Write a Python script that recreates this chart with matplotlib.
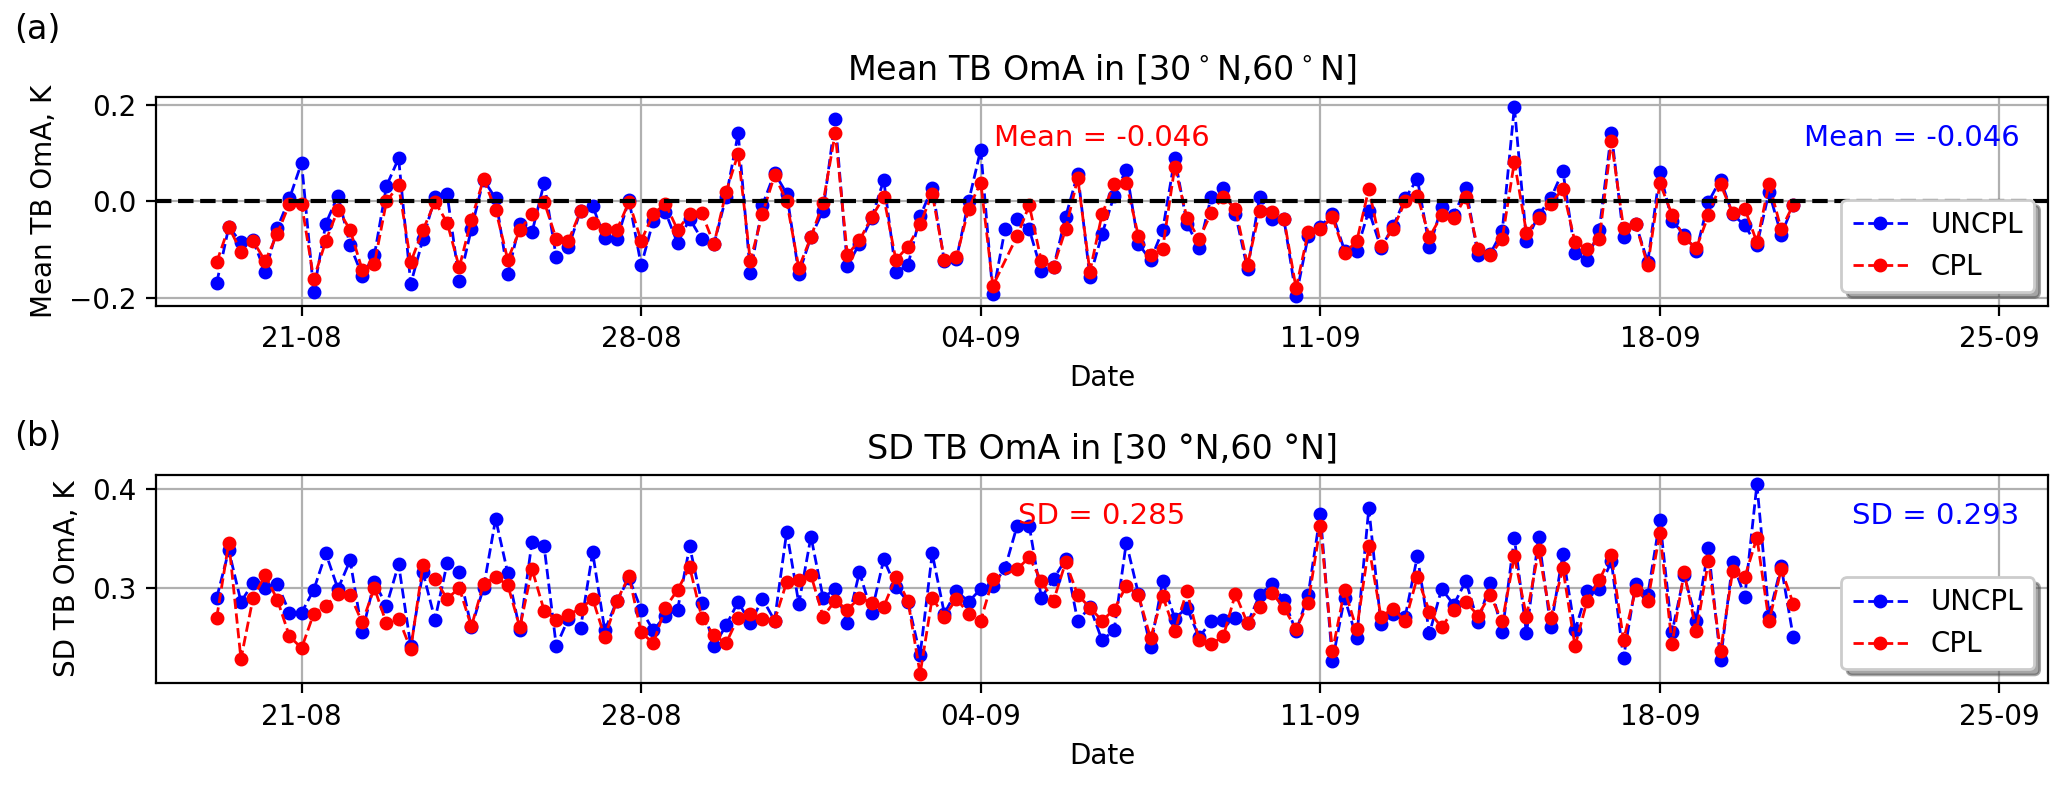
import matplotlib
matplotlib.use('Agg')
import matplotlib.pyplot as plt
import matplotlib.dates as mdates
import numpy as np
import pandas as pd

# 6-hourly analysis times
times = pd.date_range('2022-08-19 06:00', periods=131, freq='6h')

# mean TB OmA (K)
mean_uncpl = [
    -0.169, -0.053, -0.085, -0.081, -0.147, -0.055, 0.006, 0.080, -0.187, -0.046,
    0.012, -0.091, -0.154, -0.112, 0.032, 0.089, -0.171, -0.079, 0.009, 0.015,
    -0.166, -0.057, 0.045, 0.006, -0.150, -0.046, -0.064, 0.038, -0.116, -0.095,
    -0.020, -0.010, -0.076, -0.079, 0.003, -0.133, -0.040, -0.022, -0.087, -0.036,
    -0.079, -0.089, 0.009, 0.141, -0.149, -0.008, 0.059, 0.016, -0.150, -0.074,
    -0.019, 0.170, -0.134, -0.088, -0.035, 0.044, -0.147, -0.132, -0.031, 0.028,
    -0.124, -0.119, 0.000, 0.107, -0.193, -0.058, -0.037, -0.058, -0.144, -0.137,
    -0.032, 0.057, -0.157, -0.068, 0.012, 0.066, -0.088, -0.122, -0.060, 0.090,
    -0.046, -0.096, 0.009, 0.028, -0.026, -0.141, 0.010, -0.036, -0.037, -0.197,
    -0.072, -0.053, -0.026, -0.102, -0.102, -0.019, -0.097, -0.052, 0.006, 0.047,
    -0.095, -0.012, -0.029, 0.028, -0.111, -0.109, -0.062, 0.196, -0.082, -0.028,
    0.006, 0.063, -0.107, -0.121, -0.059, 0.142, -0.074, -0.046, -0.126, 0.061,
    -0.040, -0.069, -0.103, -0.001, 0.045, -0.027, -0.050, -0.091, 0.019, -0.069,
    -0.008,
]
mean_cpl = [
    -0.126, -0.053, -0.104, -0.082, -0.124, -0.067, -0.005, -0.005, -0.161, -0.082,
    -0.017, -0.059, -0.142, -0.130, 0.000, 0.033, -0.126, -0.060, -0.001, -0.044,
    -0.137, -0.038, 0.046, -0.017, -0.121, -0.059, -0.027, -0.001, -0.078, -0.082,
    -0.020, -0.045, -0.058, -0.059, -0.001, -0.082, -0.026, -0.005, -0.059, -0.027,
    -0.024, -0.089, 0.019, 0.099, -0.124, -0.026, 0.054, 0.000, -0.138, -0.074,
    -0.003, 0.142, -0.111, -0.081, -0.033, 0.009, -0.121, -0.094, -0.048, 0.016,
    -0.121, -0.116, -0.015, 0.039, -0.175, np.nan, -0.072, -0.008, -0.124, -0.136,
    -0.058, 0.048, -0.146, -0.027, 0.037, 0.039, -0.072, -0.112, -0.098, 0.072,
    -0.034, -0.079, -0.024, 0.010, -0.015, -0.132, -0.020, -0.022, -0.036, -0.180,
    -0.064, -0.057, -0.033, -0.107, -0.083, 0.026, -0.093, -0.057, 0.000, 0.012,
    -0.074, -0.029, -0.035, 0.010, -0.098, -0.112, -0.078, 0.082, -0.065, -0.035,
    -0.005, 0.026, -0.085, -0.098, -0.079, 0.125, -0.055, -0.046, -0.133, 0.038,
    -0.028, -0.076, -0.097, -0.029, 0.035, -0.024, -0.015, -0.085, 0.037, -0.058,
    -0.007,
]

# SD TB OmA (K)
sd_uncpl = [
    0.290, 0.338, 0.286, 0.305, 0.300, 0.304, 0.275, 0.275, 0.298, 0.335,
    0.299, 0.328, 0.255, 0.306, 0.282, 0.324, 0.241, 0.316, 0.268, 0.325,
    0.316, 0.260, 0.300, 0.370, 0.315, 0.257, 0.347, 0.342, 0.241, 0.269,
    0.259, 0.336, 0.257, 0.287, 0.310, 0.278, 0.257, 0.272, 0.278, 0.342,
    0.285, 0.241, 0.262, 0.286, 0.264, 0.289, 0.267, 0.357, 0.284, 0.352,
    0.290, 0.299, 0.264, 0.316, 0.275, 0.329, 0.301, 0.286, 0.232, 0.335,
    0.274, 0.297, 0.286, 0.299, 0.302, 0.320, 0.363, 0.363, 0.290, 0.309,
    0.329, 0.266, 0.281, 0.247, 0.257, 0.346, 0.294, 0.240, 0.307, 0.269,
    0.280, 0.250, 0.266, 0.268, 0.270, 0.264, 0.293, 0.304, 0.288, 0.256,
    0.293, 0.375, 0.226, 0.290, 0.249, 0.381, 0.263, 0.274, 0.271, 0.332,
    0.254, 0.299, 0.283, 0.307, 0.265, 0.305, 0.255, 0.351, 0.254, 0.352,
    0.260, 0.334, 0.257, 0.297, 0.299, 0.327, 0.229, 0.304, 0.293, 0.369,
    0.255, 0.313, 0.267, 0.340, 0.227, 0.326, 0.291, 0.405, 0.272, 0.322,
    0.250,
]
sd_cpl = [
    0.270, 0.346, 0.228, 0.290, 0.313, 0.288, 0.251, 0.239, 0.274, 0.282,
    0.294, 0.293, 0.265, 0.300, 0.264, 0.269, 0.238, 0.323, 0.309, 0.289,
    0.300, 0.261, 0.304, 0.311, 0.303, 0.260, 0.319, 0.277, 0.268, 0.273,
    0.279, 0.289, 0.250, 0.287, 0.312, 0.255, 0.244, 0.280, 0.298, 0.321,
    0.270, 0.252, 0.244, 0.270, 0.274, 0.269, 0.267, 0.306, 0.308, 0.313,
    0.271, 0.287, 0.278, 0.290, 0.285, 0.281, 0.311, 0.287, 0.213, 0.290,
    0.271, 0.289, 0.274, 0.267, 0.309, np.nan, 0.319, 0.331, 0.307, 0.287,
    0.326, 0.293, 0.280, 0.267, 0.278, 0.302, 0.293, 0.249, 0.292, 0.256,
    0.297, 0.247, 0.243, 0.251, 0.294, 0.264, 0.281, 0.295, 0.280, 0.258,
    0.285, 0.363, 0.236, 0.298, 0.258, 0.342, 0.271, 0.279, 0.266, 0.311,
    0.276, 0.260, 0.278, 0.286, 0.272, 0.293, 0.266, 0.332, 0.271, 0.338,
    0.270, 0.320, 0.241, 0.287, 0.308, 0.333, 0.247, 0.298, 0.287, 0.356,
    0.243, 0.316, 0.256, 0.327, 0.236, 0.317, 0.311, 0.351, 0.266, 0.319,
    0.284,
]

mean_text = ['Mean = -0.046', 'Mean = -0.046']   # CPL, UNCPL
sd_text = ['SD = 0.285', 'SD = 0.293']           # CPL, UNCPL
tick_days = pd.date_range('2022-08-21', '2022-09-25', freq='7D')


def draw_panel(ax, uncpl, cpl, title, ylabel, texts, zero_line=False):
    uncpl = np.array(uncpl)
    cpl = np.array(cpl)
    m = ~np.isnan(cpl)
    ax.plot(times, uncpl, 'o--', color='blue', lw=1, ms=4, label='UNCPL')
    ax.plot(times[m], cpl[m], 'o--', color='red', lw=1, ms=4, label='CPL')
    if zero_line:
        ax.axhline(0, color='k', ls='--', lw=1.5)
    ax.set_xlim(pd.Timestamp('2022-08-18'), pd.Timestamp('2022-09-26'))
    ax.set_xticks(tick_days)
    ax.xaxis.set_major_formatter(mdates.DateFormatter('%d-%m'))
    ax.grid(True)
    ax.set_title(title)
    ax.set_xlabel('Date')
    ax.set_ylabel(ylabel)
    ax.text(0.5, 0.765, texts[0], color='red', fontsize=10.5, ha='center',
            va='baseline', transform=ax.transAxes)
    ax.text(0.985, 0.765, texts[1], color='blue', fontsize=10.5, ha='right',
            va='baseline', transform=ax.transAxes)
    ax.legend(loc='lower right', shadow=True)


fig = plt.figure(figsize=(10.335, 3.925), dpi=200)
ax1 = fig.add_axes([0.0755, 0.6104, 0.9153, 0.2656])
ax2 = fig.add_axes([0.0755, 0.1296, 0.9153, 0.2655])

draw_panel(ax1, mean_uncpl, mean_cpl, r'Mean TB OmA in [30$^\circ$N,60$^\circ$N]',
           'Mean TB OmA, K', mean_text, zero_line=True)
draw_panel(ax2, sd_uncpl, sd_cpl, 'SD TB OmA in [30 \u00b0N,60 \u00b0N]',
           'SD TB OmA, K', sd_text)

fig.text(0.007, 0.963, '(a)', fontsize=12, va='center')
fig.text(0.007, 0.444, '(b)', fontsize=12, va='center')

fig.savefig('out.png', dpi=200)
